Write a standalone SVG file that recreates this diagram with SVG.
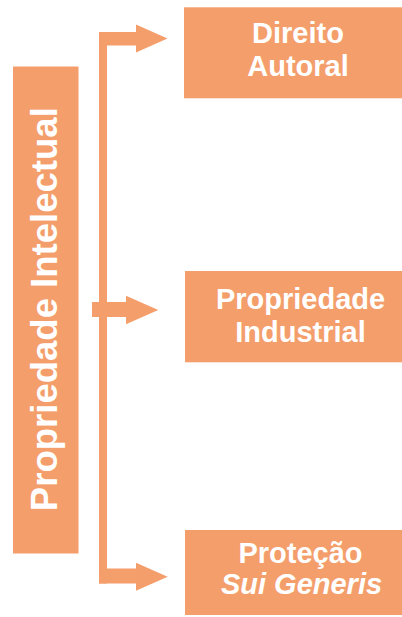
<svg xmlns="http://www.w3.org/2000/svg" width="402" height="617" viewBox="0 0 402 617">
<style>
.box{fill:#F49E6C}
.lbl{font-family:"Liberation Sans",Arial,sans-serif;font-weight:bold;fill:#FFFFFF;text-anchor:middle}
.conn{fill:#F49E6C}
</style>
<rect width="402" height="617" fill="#FFFFFF"/>
<g id="node-propriedade-intelectual">
<rect class="box" x="13" y="66.5" width="65.5" height="487"/>
<text class="lbl" font-size="36" textLength="404" lengthAdjust="spacingAndGlyphs" transform="translate(57,309.2) rotate(-90)" x="0" y="0">Propriedade Intelectual</text>
</g>
<g id="node-direito-autoral">
<rect class="box" x="184" y="7.3" width="218" height="91"/>
<text class="lbl" font-size="29" x="298" y="43.3">Direito</text>
<text class="lbl" font-size="29" x="298" y="76">Autoral</text>
</g>
<g id="node-propriedade-industrial">
<rect class="box" x="185" y="271" width="217" height="91.3"/>
<text class="lbl" font-size="29" x="300.5" y="309.3">Propriedade</text>
<text class="lbl" font-size="29" x="300.5" y="341.7">Industrial</text>
</g>
<g id="node-protecao-sui-generis">
<rect class="box" x="185" y="530" width="217" height="85"/>
<text class="lbl" font-size="29" x="300.5" y="563.3">Proteção</text>
<text class="lbl" font-size="29" font-style="italic" x="301.5" y="594">Sui Generis</text>
</g>
<g id="connectors">
<rect class="conn" x="99" y="32" width="8" height="551.5"/>
<polygon class="conn" points="99,32 136,32 136,24.5 167.5,38.5 136,52.5 136,45.5 99,45.5"/>
<polygon class="conn" points="92,302 126,302 126,295.7 158.3,310 126,324.3 126,317 92,317"/>
<polygon class="conn" points="99,568.5 136,568.5 136,562.7 167.7,576.7 136,590.7 136,583.5 99,583.5"/>
</g>
</svg>
